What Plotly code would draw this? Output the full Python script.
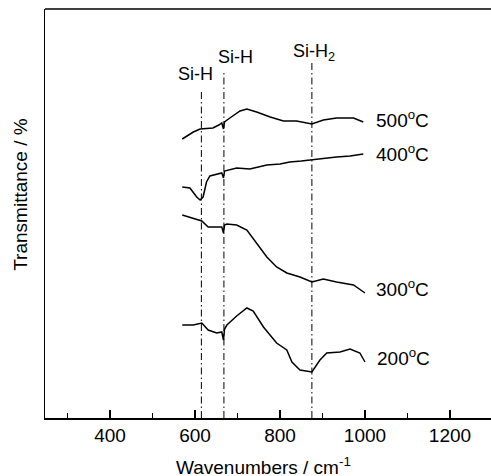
import plotly.graph_objects as go

# ---- data ----
wn_500 = [570, 596, 612, 642, 656, 663, 667, 669.5, 682, 706, 722, 745, 777, 808, 839, 875, 902, 933, 973, 996]
t_500 = [279, 286, 289, 290, 293, 295, 289, 296, 300, 307, 309, 306, 301, 297, 297, 294, 298, 300, 300, 296]

wn_400 = [570, 588, 604, 612, 619, 627, 635, 663, 667, 669.5, 698, 729, 749, 769, 800, 823, 850, 871, 900, 933, 965, 996]
t_400 = [231, 230, 221, 218, 221, 236, 242, 245, 240, 247, 250, 249, 251, 253, 254, 256, 257, 258, 260, 261, 262, 264]

wn_300 = [570, 604, 616, 631, 663, 667, 669.5, 675, 698, 722, 745, 769, 792, 816, 847, 875, 902, 933, 973, 1000]
t_300 = [203, 198, 197, 191, 191, 185, 193, 194, 193, 188, 175, 161, 151, 145, 141, 136, 139, 136, 133, 125]

wn_200 = [570, 596, 616, 631, 651, 663, 667, 669.5, 675, 698, 722, 737, 761, 792, 816, 828, 847, 875, 894, 910, 941, 965, 988, 1000]
t_200 = [93, 93, 95, 88, 85, 86, 78, 89, 93, 102, 110, 107, 91, 75, 68, 56, 48, 46, 58, 65, 66, 69, 65, 56]

series_names = ["500<sup>o</sup>C", "400<sup>o</sup>C", "300<sup>o</sup>C", "200<sup>o</sup>C"]
label_x = [1021, 1021, 1021, 1024]
label_y = [299, 265, 130, 61]

peak_positions = [615, 668, 875]
peak_tops = [328, 348, 356]
peak_labels = ["Si-H", "Si-H", "Si-H<sub>2</sub>"]
peak_label_x = [602, 695, 880]
peak_label_y = [344, 361, 366]

x_range = [247, 1296.5]
y_range = [0, 409]

FONT = "Liberation Sans, Arial, sans-serif"

fig = go.Figure()
for wx, ty in [(wn_500, t_500), (wn_400, t_400), (wn_300, t_300), (wn_200, t_200)]:
    fig.add_trace(go.Scatter(x=wx, y=ty, mode="lines",
                             line=dict(color="black", width=1.5),
                             showlegend=False, hoverinfo="skip"))

for px, top in zip(peak_positions, peak_tops):
    fig.add_trace(go.Scatter(x=[px, px], y=[y_range[0], top], mode="lines",
                             line=dict(color="black", width=1, dash="7px,3px,1.5px,3px"),
                             showlegend=False, hoverinfo="skip"))

annotations = []
for name, lx, ly in zip(series_names, label_x, label_y):
    annotations.append(dict(x=lx, y=ly, xref="x", yref="y", text=name, showarrow=False,
                            xanchor="left", yanchor="middle",
                            font=dict(family=FONT, size=19, color="black")))
for txt, lx, ly in zip(peak_labels, peak_label_x, peak_label_y):
    annotations.append(dict(x=lx, y=ly, xref="x", yref="y", text=txt, showarrow=False,
                            xanchor="center", yanchor="middle",
                            font=dict(family=FONT, size=18, color="black")))
annotations.append(dict(x=0.489, y=-0.118, xref="paper", yref="paper",
                        text="Wavenumbers / cm<sup>-1</sup>", showarrow=False,
                        xanchor="center", yanchor="middle",
                        font=dict(family=FONT, size=19, color="black")))
annotations.append(dict(x=-0.054, y=0.548, xref="paper", yref="paper",
                        text="Transmittance / %", showarrow=False, textangle=-90,
                        xanchor="center", yanchor="middle",
                        font=dict(family=FONT, size=19, color="black")))

fig.update_layout(
    width=491, height=476,
    margin=dict(l=45, r=0, t=9, b=58),
    paper_bgcolor="white", plot_bgcolor="white",
    font=dict(family=FONT, size=19, color="black"),
    annotations=annotations,
    shapes=[dict(type="line", xref="paper", yref="paper", x0=0, x1=1, y0=1, y1=1,
                 line=dict(color="black", width=1.5))],
    xaxis=dict(range=x_range, showgrid=False, zeroline=False,
               showline=True, linecolor="black", linewidth=1.5,
               ticks="inside", ticklen=8, tickwidth=1.5, tickcolor="black",
               tick0=0, dtick=200,
               minor=dict(ticks="inside", ticklen=5, tickwidth=1.5, tickcolor="black", dtick=100),
               tickfont=dict(family=FONT, size=19, color="black")),
    yaxis=dict(range=y_range, showgrid=False, zeroline=False,
               showline=True, linecolor="black", linewidth=1.5,
               showticklabels=False, ticks=""),
)

fig.write_html("out.html", config={"displayModeBar": False, "staticPlot": True},
               post_script="document.body.style.margin='0px';document.body.style.overflow='hidden';")
